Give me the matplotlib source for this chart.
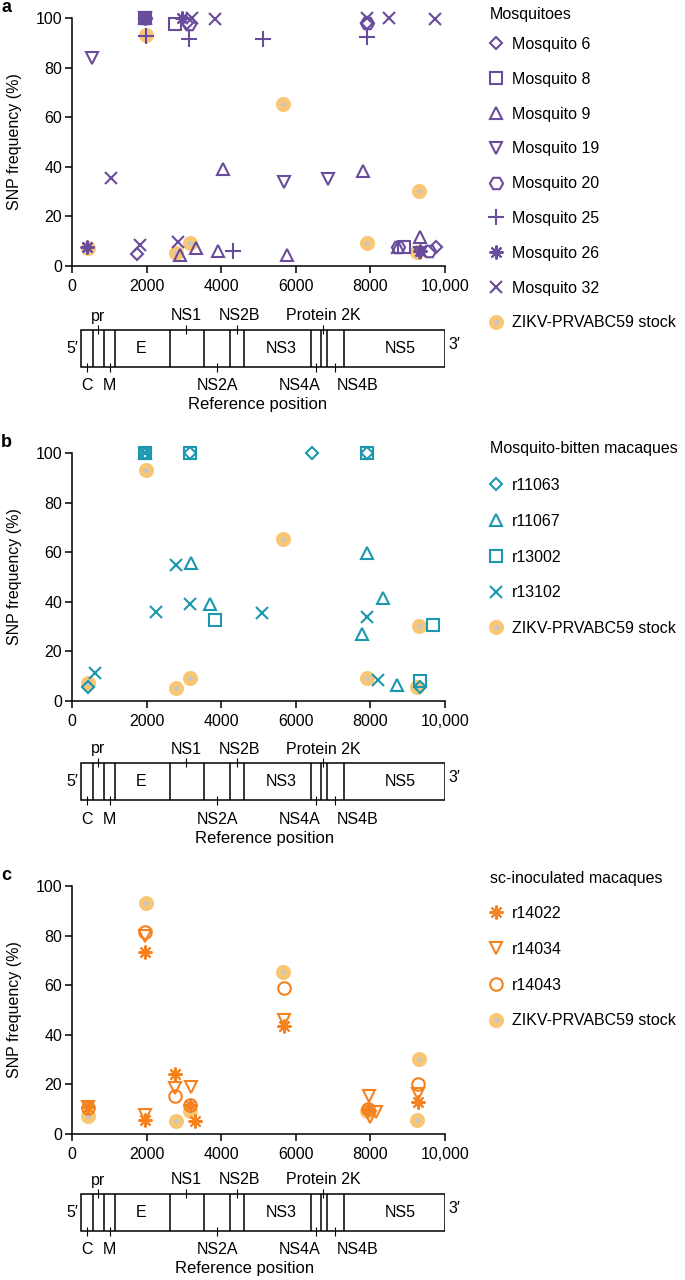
import matplotlib
matplotlib.use('Agg')
import matplotlib.pyplot as plt
from matplotlib.patches import Rectangle

plt.rcParams['font.family'] = ['Liberation Sans', 'DejaVu Sans']
plt.rcParams['font.size'] = 11.5

W, H = 685, 1280

# ---- axis ticks ----
xticks = [0, 2000, 4000, 6000, 8000, 10000]
xtick_labels = ['0', '2000', '4000', '6000', '8000', '10,000']
yticks = [0, 20, 40, 60, 80, 100]

# ---- stock virus (same in all panels) ----
stock_x = [420, 1980, 2790, 3170, 5670, 7920, 9240, 9300]
stock_y = [7.4, 93, 5.4, 9.3, 65.5, 9.3, 5.8, 30.3]

# ---- panel a: mosquitoes ----
m6_x = [1740, 1960, 3080, 7900, 9760]
m6_y = [5.0, 100, 98, 98, 7.6]
m8_x = [1960, 2760, 8900]
m8_y = [100, 97.6, 7.5]
m9_x = [1960, 2900, 3320, 3920, 4040, 5760, 7800, 8750, 9330]
m9_y = [100, 4.4, 7.2, 6.0, 39.3, 4.4, 38.3, 7.5, 11.6]
m19_x = [540, 1960, 5690, 6870, 9330]
m19_y = [84, 100, 34, 35, 5.2]
m20_x = [1960, 3140, 7900, 8740, 9570]
m20_y = [100, 97.6, 98, 7.6, 6.0]
m25_x = [1984, 3140, 5130, 7900, 4320]
m25_y = [92.8, 91.5, 91.5, 92.5, 6.0]
m26_x = [410, 1960, 2950, 9330]
m26_y = [7.6, 100, 100, 6.0]
m32_x = [1045, 1820, 2850, 3220, 3830, 7900, 8500, 9730]
m32_y = [35.5, 8.4, 9.6, 100, 99.5, 100, 100, 99.5]

# ---- panel b: mosquito-bitten macaques ----
r11063_x = [430, 1960, 3160, 6440, 7900, 9330]
r11063_y = [5.6, 100, 100, 100, 100, 5.5]
r11067_x = [1960, 3190, 3700, 7770, 7900, 8330, 8700]
r11067_y = [100, 55.8, 39.3, 27, 59.7, 41.7, 6.5]
r13002_x = [1960, 3160, 3830, 7900, 9330, 9680]
r13002_y = [100, 100, 32.8, 100, 8.0, 30.5]
r13102_x = [620, 1960, 2240, 2780, 3160, 5090, 7900, 8200]
r13102_y = [11.3, 100, 36, 54.8, 39.3, 35.5, 33.7, 8.5]

# ---- panel c: sc-inoculated macaques ----
r14022_x = [430, 1960, 1960, 2770, 3170, 3300, 5680, 7930, 9280]
r14022_y = [11, 73.5, 5.8, 24, 11.8, 5.4, 43.5, 10, 13]
r14034_x = [430, 1960, 1960, 2750, 3200, 5680, 7960, 8000, 8150, 9280]
r14034_y = [11, 80, 7.5, 18.7, 19, 46, 15.4, 7, 9, 16]
r14043_x = [430, 1960, 2750, 3170, 5680, 7930, 9280]
r14043_y = [10.5, 81.5, 15.4, 11.5, 58.8, 10.2, 20]

# ---- genome map ----
gene_bounds = [242, 563, 859, 1155, 2617, 3543, 4241, 4604, 6402, 6671, 6832, 7288, 10013]
inner_names = ['E', 'NS3', 'NS5']
inner_x = [1850, 5600, 8800]
top_names = ['pr', 'NS1', 'NS2B', 'Protein 2K']
top_ticks = [700, 3060, 4420, 6740]
top_text_x = [700, 3060, 4480, 6740]
bottom_names = ['C', 'M', 'NS2A', 'NS4A', 'NS4B']
bottom_ticks = [400, 1010, 3890, 6550, 7040]
bottom_text_x = [400, 1010, 3890, 6100, 7650]

purple = '#6A4C9C'
teal = '#1B98AE'
orange = '#F5821F'
stock_edge = '#F9C774'
stock_face = '#C6C6C6'

panels = [
    dict(letter='a', top=18, box_top=330, ref_px=258, color=purple,
         title='Mosquitoes', title_y=15, leg_top=37, spacing=1.24,
         series=[('Mosquito 6', 'D', 6.5, m6_x, m6_y),
                 ('Mosquito 8', 's', 8.5, m8_x, m8_y),
                 ('Mosquito 9', '^', 9, m9_x, m9_y),
                 ('Mosquito 19', 'v', 9, m19_x, m19_y),
                 ('Mosquito 20', 'H', 9.5, m20_x, m20_y),
                 ('Mosquito 25', '+', 11, m25_x, m25_y),
                 ('Mosquito 26', (8, 2, 0), 10, m26_x, m26_y),
                 ('Mosquito 32', 'x', 9, m32_x, m32_y)]),
    dict(letter='b', top=453, box_top=763, ref_px=265, color=teal,
         title='Mosquito-bitten macaques', title_y=448, leg_top=478, spacing=1.3,
         series=[('r11063', 'D', 6.5, r11063_x, r11063_y),
                 ('r11067', '^', 9, r11067_x, r11067_y),
                 ('r13002', 's', 8.5, r13002_x, r13002_y),
                 ('r13102', 'x', 9, r13102_x, r13102_y)]),
    dict(letter='c', top=886, box_top=1194, ref_px=245, color=orange,
         title='sc-inoculated macaques', title_y=878, leg_top=906, spacing=1.3,
         series=[('r14022', (8, 2, 0), 10, r14022_x, r14022_y),
                 ('r14034', 'v', 9, r14034_x, r14034_y),
                 ('r14043', 'o', 9, r14043_x, r14043_y)]),
]

fig = plt.figure(figsize=(W / 100, H / 100), dpi=100)
ax_left, ax_w = 72, 373

for p in panels:
    ax = fig.add_axes([ax_left / W, 1 - (p['top'] + 248) / H, ax_w / W, 248 / H])
    ax.set_xlim(0, 10000)
    ax.set_ylim(0, 100)
    for s in ['top', 'right']:
        ax.spines[s].set_visible(False)
    for s in ['left', 'bottom']:
        ax.spines[s].set_linewidth(1.1)
    ax.set_xticks(xticks)
    ax.set_xticklabels(xtick_labels)
    ax.set_yticks(yticks)
    ax.tick_params(direction='out', length=5, width=1.1, labelsize=11.5)
    ax.tick_params(axis='x', pad=4.5)
    ax.tick_params(axis='y', pad=2)
    ax.set_ylabel('SNP frequency (%)', fontsize=11.5)
    ax.yaxis.set_label_coords(-0.135, 0.5)

    stock, = ax.plot(stock_x, stock_y, linestyle='none', marker='o', ms=7.2,
                     mfc=stock_face, mec=stock_edge, mew=3.6, clip_on=False, zorder=2)
    handles, labels = [], []
    for name, mk, ms, xs, ys in p['series']:
        h, = ax.plot(xs, ys, linestyle='none', marker=mk, ms=ms, mfc='none',
                     mec=p['color'], mew=1.5, clip_on=False, zorder=3)
        handles.append(h)
        labels.append(name)
    handles.append(stock)
    labels.append('ZIKV-PRVABC59 stock')

    ax.legend(handles, labels, loc='upper left',
              bbox_to_anchor=(490 / W, 1 - p['leg_top'] / H),
              bbox_transform=fig.transFigure, frameon=False,
              borderpad=0, borderaxespad=0, handlelength=0.8,
              handletextpad=0.6, labelspacing=p['spacing'], fontsize=11.5)
    fig.text(490 / W, 1 - p['title_y'] / H, p['title'], ha='left', va='center',
             fontsize=11.5)

    fig.text(1 / W, 1 - (p['top'] - 6) / H, p['letter'], fontsize=13,
             fontweight='bold', va='baseline', ha='left')

    # genome diagram, x in reference position, y in pixels from top
    bt = p['box_top']
    bb = bt + 37
    g = fig.add_axes([ax_left / W, 1 - (bb + 55) / H, ax_w / W, (37 + 95) / H])
    g.set_xlim(0, 10000)
    g.set_ylim(bb + 55, bt - 40)
    g.axis('off')
    g.add_patch(Rectangle((gene_bounds[0], bt), gene_bounds[-1] - gene_bounds[0], 37,
                          fill=False, lw=1.1, ec='black'))
    g.vlines(gene_bounds[1:-1], bt, bb, colors='black', lw=1.1)
    g.vlines(top_ticks, bt - 5, bt + 4, colors='black', lw=0.8)
    g.vlines(bottom_ticks, bb - 4, bb + 5, colors='black', lw=0.8)
    for name, x in zip(inner_names, inner_x):
        g.text(x, (bt + bb) / 2, name, ha='center', va='center')
    for name, x in zip(top_names, top_text_x):
        g.text(x, bt - 14, name, ha='center', va='center')
    for name, x in zip(bottom_names, bottom_text_x):
        g.text(x, bb + 19, name, ha='center', va='center')
    g.text(gene_bounds[0] - 80, (bt + bb) / 2, '5\u2032', ha='right', va='center')
    g.text(gene_bounds[-1] + 80, (bt + bb) / 2 - 4, '3\u2032', ha='left', va='center')
    g.text((p['ref_px'] - ax_left) / ax_w * 10000, bb + 38, 'Reference position',
           ha='center', va='center', fontsize=12)

fig.savefig('out.png', dpi=100)
